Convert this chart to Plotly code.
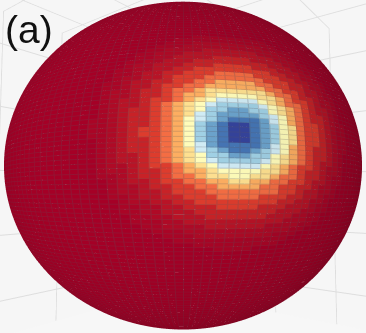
import math
import plotly.graph_objects as go
from plotly.colors import sample_colorscale

# Grid of the sphere surface (degrees)
lat_edges = [-90 + 1.2 * i for i in range(151)]
lon_edges = [-180 + 2.4 * i for i in range(151)]

# Radial profile of the spot: angular distance (deg) -> colour level
spot_dist = [0, 2, 4, 6, 8, 9.5, 11, 12.5, 14, 16.5, 19, 22, 25, 28, 31, 34]
spot_level = [1.0, 0.98, 0.9, 0.82, 0.72, 0.63, 0.49, 0.4, 0.3, 0.2, 0.12, 0.07, 0.04, 0.02, 0.01, 0.0]
spot_lat, spot_lon = 3.5, 12.1

VIEW_AZ, VIEW_EL, VIEW_D = 38.0, -4.0, 1.117
BOX_SCALE = 1.15
BOX = 1.1 * BOX_SCALE
Z_ASPECT = 0.915
LINE_LAT, LINE_LON = 0.22, 0.3
LINE_GREY, LINE_MIX = (90, 85, 95), 0.25
SHADE_BASE, SHADE_GAIN, SHADE_LON = 0.7, 0.32, -15.0


def xyz(lat, lon):
    a, b = math.radians(lat), math.radians(lon + VIEW_AZ)
    return round(math.cos(a) * math.cos(b), 4), round(math.cos(a) * math.sin(b), 4), round(math.sin(a), 4)


def level(lat, lon):
    dlat = (lat - spot_lat) * 1.15
    dlon = (lon - spot_lon) * math.cos(math.radians(lat))
    d = math.hypot(dlat, dlon)
    if d > 37:
        return 0.0
    idx = min(range(len(spot_dist)), key=lambda i: abs(spot_dist[i] - d))
    return spot_level[idx]


def visible(lat, lon):
    a, b, e = math.radians(lat), math.radians(lon), math.radians(VIEW_EL)
    return math.cos(a) * math.cos(e) * math.cos(b) + math.sin(a) * math.sin(e) > 0.25


def shade(lat, lon):
    a, b = math.radians(lat), math.radians(lon - SHADE_LON)
    return min(1.0, SHADE_BASE + SHADE_GAIN * max(0.0, math.cos(a) * math.cos(b)))


X, Y, Z, I, J, K, C = [], [], [], [], [], [], []


def quad(la0, la1, lo0, lo1, col):
    n = len(X)
    for la, lo in ((la0, lo0), (la0, lo1), (la1, lo1), (la1, lo0)):
        p = xyz(la, lo)
        X.append(p[0]); Y.append(p[1]); Z.append(p[2])
    I.extend([n, n]); J.extend([n + 1, n + 2]); K.extend([n + 2, n + 3]); C.extend([col, col])


def rgb_of(s):
    return [int(t) for t in s[s.index("(") + 1:-1].split(",")]


for r in range(len(lat_edges) - 1):
    for c in range(len(lon_edges) - 1):
        la0, la1, lo0, lo1 = lat_edges[r], lat_edges[r + 1], lon_edges[c], lon_edges[c + 1]
        mla, mlo = (la0 + la1) / 2, (lo0 + lo1) / 2
        if not visible(mla, mlo):
            continue
        s = shade(mla, mlo)
        v = [t * s for t in rgb_of(sample_colorscale("RdYlBu", [level(mla, mlo)])[0])]
        col = "rgb(%d,%d,%d)" % tuple(round(t) for t in v)
        dark = "rgb(%d,%d,%d)" % tuple(round(v[i] * (1 - LINE_MIX) + LINE_GREY[i] * LINE_MIX * s) for i in range(3))
        quad(la0 + LINE_LAT, la1, lo0 + LINE_LON, lo1, col)
        quad(la0, la0 + LINE_LAT, lo0, lo1, dark)
        quad(la0 + LINE_LAT, la1, lo0, lo0 + LINE_LON, dark)

az, el = math.radians(VIEW_AZ), math.radians(VIEW_EL)
fig = go.Figure()
fig.add_trace(go.Mesh3d(x=X, y=Y, z=Z, i=I, j=J, k=K, facecolor=C, flatshading=True,
                        lighting=dict(ambient=1.0, diffuse=0.0, specular=0.0, roughness=1.0, fresnel=0.0),
                        hoverinfo="skip", showscale=False))

axis = dict(range=[-BOX, BOX], showbackground=True, backgroundcolor="#f6f6f6", gridcolor="#dedede",
            gridwidth=2, showticklabels=False, title="", zeroline=False, showline=False,
            showspikes=False, dtick=0.5, tick0=-1.0, ticks="")
fig.update_layout(
    width=366, height=333, margin=dict(l=0, r=0, t=0, b=0), paper_bgcolor="#f7f7f7", showlegend=False,
    scene=dict(xaxis=axis, yaxis=axis, zaxis=axis, aspectmode="manual",
               aspectratio=dict(x=BOX_SCALE, y=BOX_SCALE, z=Z_ASPECT * BOX_SCALE),
               domain=dict(x=[0, 1], y=[0, 1]),
               camera=dict(eye=dict(x=VIEW_D * math.cos(el) * math.cos(az), y=VIEW_D * math.cos(el) * math.sin(az),
                                    z=VIEW_D * math.sin(el)))),
    annotations=[dict(text="(a)", x=3 / 366, y=1 - 6 / 333, xref="paper", yref="paper", showarrow=False,
                      xanchor="left", yanchor="top", font=dict(family="Liberation Sans", size=39, color="#111"))],
)
fig.write_html("out.html", config={"displayModeBar": False},
               post_script="document.body.style.margin='0';document.body.style.overflow='hidden';")
